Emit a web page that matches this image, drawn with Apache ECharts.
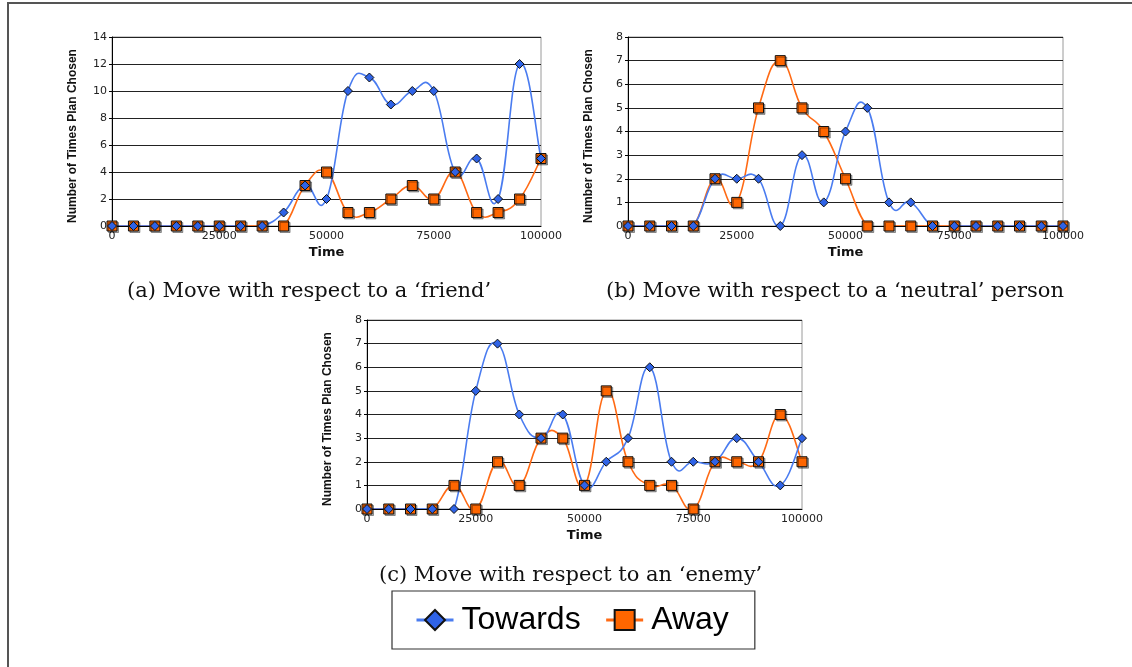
<!DOCTYPE html>
<html><head><meta charset="utf-8">
<script src="https://cdn.jsdelivr.net/npm/echarts@6/dist/echarts.min.js"></script>
<style>html,body{margin:0;padding:0;background:#fff}#c{width:1132px;height:667px}</style>
</head><body><div id="c"></div>
<script>
// ---- data ----
const timePoints = [0,5000,10000,15000,20000,25000,30000,35000,40000,45000,50000,55000,60000,65000,70000,75000,80000,85000,90000,95000,100000];
const xTicks = [0,25000,50000,75000,100000];
const friendTowards  = [0,0,0,0,0,0,0,0,1,3,2,10,11,9,10,10,4,5,2,12,5];
const friendAway     = [0,0,0,0,0,0,0,0,0,3,4,1,1,2,3,2,4,1,1,2,5];
const neutralTowards = [0,0,0,0,2,2,2,0,3,1,4,5,1,1,0,0,0,0,0,0,0];
const neutralAway    = [0,0,0,0,2,1,5,7,5,4,2,0,0,0,0,0,0,0,0,0,0];
const enemyTowards   = [0,0,0,0,0,5,7,4,3,4,1,2,3,6,2,2,2,3,2,1,3];
const enemyAway      = [0,0,0,0,1,0,2,1,3,3,1,5,2,1,1,0,2,2,2,4,2];
const seriesNames = ['Towards','Away'];
const captions = ['(a) Move with respect to a \u2018friend\u2019','(b) Move with respect to a \u2018neutral\u2019 person','(c) Move with respect to an \u2018enemy\u2019'];
const yAxisTitle = 'Number of Times Plan Chosen';
const xAxisTitle = 'Time';

// ---- styling ----
const BLUE_LINE = '#4a7cf0', BLUE_FILL = '#2f63e6';
const ORANGE_LINE = '#ff6a14', ORANGE_FILL = '#ff6600';

const grids = [
  {left:112, top:37, width:429, height:189},
  {left:628, top:37, width:435, height:189},
  {left:367, top:320, width:435, height:189}
];
grids.forEach(g => { g.show = true; g.borderColor = '#9a9a9a'; g.borderWidth = 1; g.backgroundColor = 'transparent'; });

function xAx(i){
  return {type:'value', gridIndex:i, min:0, max:100000, interval:25000,
    name:xAxisTitle, nameLocation:'middle', nameGap:20,
    nameTextStyle:{fontFamily:'DejaVu Sans', fontWeight:'bold', fontSize:13, color:'#111'},
    axisLine:{show:true, onZero:false, lineStyle:{color:'#000', width:1}},
    axisTick:{show:false},
    axisLabel:{fontFamily:'DejaVu Sans', fontSize:11, color:'#222', margin:5, showMaxLabel:true, showMinLabel:true,
      formatter: v => String(v)},
    splitLine:{show:false}};
}
function yAx(i, max, interval){
  return {type:'value', gridIndex:i, min:0, max:max, interval:interval,
    name:yAxisTitle, nameLocation:'middle', nameGap:33, nameRotate:90,
    nameTextStyle:{fontFamily:'Liberation Sans', fontWeight:'bold', fontSize:12, color:'#111', padding:[0,9,0,0]},
    axisLine:{show:true, lineStyle:{color:'#000', width:1}},
    axisTick:{show:true, length:3, lineStyle:{color:'#000'}},
    axisLabel:{fontFamily:'DejaVu Sans', fontSize:11, color:'#222', margin:5},
    splitLine:{show:true, lineStyle:{color:'#222', width:1}}};
}

// markers (line series with hidden line; curve drawn by the custom series below)
function markerSeries(name, vals, gi){
  const isT = name === 'Towards';
  return {
    name:name, type:'line', xAxisIndex:gi, yAxisIndex:gi,
    data: timePoints.map((t,k)=>[t, vals[k]]),
    symbol: isT ? 'diamond' : 'rect',
    symbolSize: isT ? 9 : 10,
    showAllSymbol:true,
    z: isT ? 6 : 5,
    lineStyle:{color: isT ? BLUE_LINE : ORANGE_LINE, width: 1.6, opacity:0},
    itemStyle:{color: isT ? BLUE_FILL : ORANGE_FILL, borderColor:'#111', borderWidth:1,
      shadowColor: isT ? 'transparent' : 'rgba(0,0,0,0.35)', shadowOffsetX: isT?0:1.5, shadowOffsetY: isT?0:1.5, shadowBlur:0},
    emphasis:{disabled:true},
    animation:false
  };
}

// smooth curve through the data points (Excel-style cardinal spline), positioned by api.coord
function curveSeries(isT, vals, gi){
  const color = isT ? BLUE_LINE : ORANGE_LINE;
  const n = timePoints.length;
  return {
    type:'custom', xAxisIndex:gi, yAxisIndex:gi, z: isT ? 4 : 3, clip:true, silent:true,
    data: timePoints.slice(0, n-1).map((t,k)=>[t, vals[k]]),
    encode:{x:0, y:1},
    renderItem: function(params, api){
      const i = params.dataIndex;
      const idx = k => Math.max(0, Math.min(n-1, k));
      const P = k => api.coord([timePoints[idx(k)], vals[idx(k)]]);
      const p0 = P(i-1), p1 = P(i), p2 = P(i+1), p3 = P(i+2);
      const s = 0.22;
      return {
        type:'bezierCurve',
        shape:{x1:p1[0], y1:p1[1], x2:p2[0], y2:p2[1],
          cpx1:p1[0] + (p2[0]-p0[0])*s, cpy1:p1[1] + (p2[1]-p0[1])*s,
          cpx2:p2[0] - (p3[0]-p1[0])*s, cpy2:p2[1] - (p3[1]-p1[1])*s},
        style:{stroke:color, lineWidth:1.6, fill:null}
      };
    },
    animation:false
  };
}

const chart = echarts.init(document.getElementById('c'), null, {renderer:'canvas'});
chart.setOption({
  animation:false,
  backgroundColor:'#fff',
  grid: grids,
  xAxis: [xAx(0), xAx(1), xAx(2)],
  yAxis: [yAx(0,14,2), yAx(1,8,1), yAx(2,8,1)],
  legend: {
    data: seriesNames, selectedMode:false,
    left:392, top:591,
    itemWidth:37, itemHeight:25, itemGap:24,
    padding:[13, 26, 13, 23],
    borderColor:'#333', borderWidth:1.2,
    textStyle:{fontFamily:'Liberation Sans', fontSize:32, color:'#000', lineHeight:32, padding:[0,0,0,3]},
    lineStyle:{width:3, opacity:1}
  },
  series: [
    curveSeries(false, friendAway, 0), curveSeries(true, friendTowards, 0),
    curveSeries(false, neutralAway, 1), curveSeries(true, neutralTowards, 1),
    curveSeries(false, enemyAway, 2), curveSeries(true, enemyTowards, 2),
    markerSeries('Away', friendAway, 0), markerSeries('Towards', friendTowards, 0),
    markerSeries('Away', neutralAway, 1), markerSeries('Towards', neutralTowards, 1),
    markerSeries('Away', enemyAway, 2), markerSeries('Towards', enemyTowards, 2)
  ],
  graphic: [
    {type:'polyline', silent:true, shape:{points:[[8,667],[8,3],[1132,3]]}, style:{stroke:'#555', lineWidth:2, fill:null}},
    {type:'text', left:127, top:281, style:{text:captions[0], font:'21px "DejaVu Serif"', fill:'#111'}},
    {type:'text', left:606, top:281, style:{text:captions[1], font:'21px "DejaVu Serif"', fill:'#111'}},
    {type:'text', left:379, top:565, style:{text:captions[2], font:'21px "DejaVu Serif"', fill:'#111'}}
  ]
});
</script></body></html>
